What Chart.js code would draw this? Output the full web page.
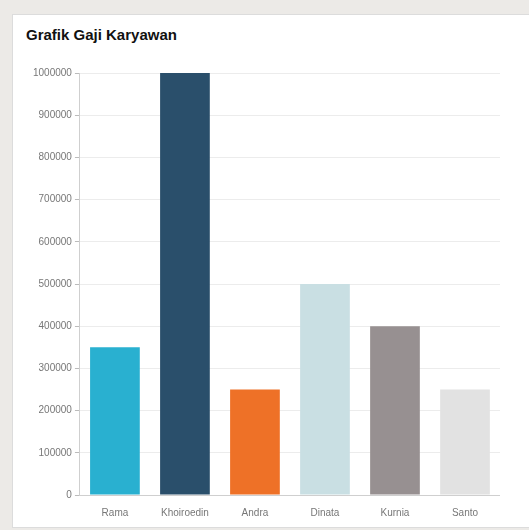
<!DOCTYPE html>
<html lang="id">
<head>
    <meta charset="UTF-8">
    <title>Grafik Gaji Karyawan</title>
    <script src="https://cdn.jsdelivr.net/npm/chart.js"></script>
    <style>
        body {
            margin: 0;
            width: 529px;
            height: 530px;
            background-color: #eceae7;
            font-family: Arial, "Liberation Sans", sans-serif;
            overflow: hidden;
        }
        .card {
            position: absolute;
            left: 12px;
            top: 14px;
            width: 520px;
            height: 512px;
            background: white;
            border: 1px solid #dcdcdc;
        }
        .card h3 {
            position: absolute;
            left: 13px;
            top: 11px;
            margin: 0;
            font-size: 15px;
            font-weight: bold;
            color: #111;
        }
        .chart-container {
            position: absolute;
            left: 0;
            top: 46px;
            width: 487px;
            height: 462px;
        }
    </style>
</head>
<body>
    <div class="card">
        <h3>Grafik Gaji Karyawan</h3>
        <div class="chart-container">
            <canvas id="gajiChart"></canvas>
        </div>
    </div>

    <script>
        const names = ['Rama', 'Khoiroedin', 'Andra', 'Dinata', 'Kurnia', 'Santo'];
        const salaries = [350000, 1000000, 250000, 500000, 400000, 250000];
        const barColors = ['#29b0d0', '#2a4f6b', '#ee7127', '#c9dfe3', '#979091', '#e2e2e2'];

        const ctx = document.getElementById('gajiChart').getContext('2d');
        new Chart(ctx, {
            type: 'bar',
            data: {
                labels: names,
                datasets: [{
                    label: 'Gaji',
                    data: salaries,
                    backgroundColor: barColors,
                    borderWidth: 0,
                    barPercentage: 0.71,
                    categoryPercentage: 1
                }]
            },
            options: {
                responsive: true,
                maintainAspectRatio: false,
                animation: false,
                layout: { padding: { left: 17, top: 12, right: 0, bottom: 0 } },
                plugins: {
                    legend: { display: false },
                    tooltip: { enabled: false }
                },
                scales: {
                    x: {
                        grid: { display: false },
                        border: { color: '#cfcfcf' },
                        ticks: { color: '#777', font: { size: 10, family: 'Arial' }, padding: 4 }
                    },
                    y: {
                        min: 0,
                        max: 1000000,
                        ticks: {
                            stepSize: 100000,
                            color: '#777',
                            font: { size: 10, family: 'Arial' },
                            padding: 3,
                            callback: v => String(v)
                        },
                        grid: { color: '#ececec', tickColor: '#bbb', tickLength: 5 },
                        border: { color: '#cfcfcf' }
                    }
                }
            }
        });
    </script>
</body>
</html>
